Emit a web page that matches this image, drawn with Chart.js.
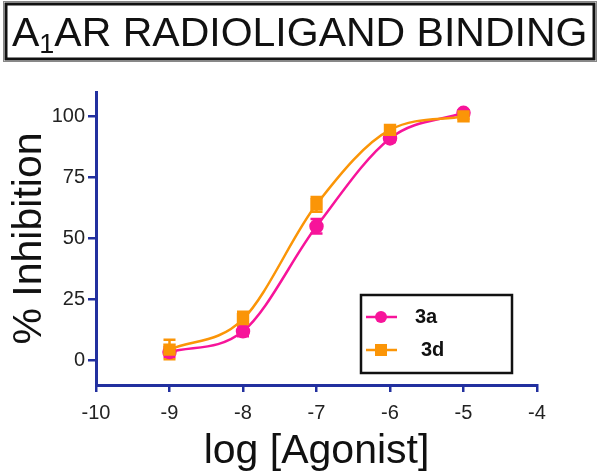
<!DOCTYPE html>
<html>
<head>
<meta charset="utf-8">
<script src="https://cdn.jsdelivr.net/npm/chart.js@4.4.1/dist/chart.umd.min.js"></script>
<style>
  html, body { margin: 0; padding: 0; background: #fff; }
  #wrap { width: 600px; height: 476px; position: relative; }
</style>
</head>
<body>
<div id="wrap"><canvas id="bindingChart" width="600" height="476"></canvas></div>
<script>
// Data
const logDoses = [-9, -8, -7, -6, -5];
const inhibition3a = [3.5, 12, 55, 91, 101.5];
const error3a = [2, 2, 3, 1.5, 1];
const inhibition3d = [4.5, 17, 64, 94.5, 100];
const error3d = [4, 3, 3, 1.5, 1];
const yTicks = [0, 25, 50, 75, 100];

const AXIS_BLUE = '#22309f';
const PINK = '#f7149a';
const ORANGE = '#fb9507';

// Title box with subscript drawn on the canvas
const titlePlugin = {
    id: 'titleBox',
    afterDraw(chart) {
        const ctx = chart.ctx;
        ctx.save();
        ctx.strokeStyle = '#111';
        ctx.lineWidth = 3;
        ctx.strokeRect(6, 4, 588, 55);
        ctx.lineWidth = 1;
        ctx.strokeStyle = '#888';
        ctx.strokeRect(3.5, 1.5, 593, 60);
        ctx.fillStyle = '#111';
        ctx.textBaseline = 'alphabetic';
        const big = '41px "Liberation Sans", Arial, sans-serif';
        const small = '27px "Liberation Sans", Arial, sans-serif';
        let x = 12;
        ctx.font = big;
        ctx.fillText('A', x, 46);
        x += ctx.measureText('A').width;
        ctx.font = small;
        ctx.fillText('1', x, 53);
        x += ctx.measureText('1').width;
        ctx.font = big;
        ctx.fillText('AR RADIOLIGAND BINDING', x, 46);
        ctx.restore();
    }
};

// Error bars from the error arrays through the chart scales
const errorBarPlugin = {
    id: 'errorBars',
    beforeDatasetsDraw(chart) {
        const ctx = chart.ctx;
        const xs = chart.scales.x, ys = chart.scales.y;
        const sets = [[inhibition3a, error3a, PINK], [inhibition3d, error3d, ORANGE]];
        ctx.save();
        ctx.lineWidth = 2.5;
        sets.forEach(([vals, errs, color]) => {
            ctx.strokeStyle = color;
            vals.forEach((v, i) => {
                const px = xs.getPixelForValue(logDoses[i]);
                const top = ys.getPixelForValue(v + errs[i]);
                const bot = ys.getPixelForValue(v - errs[i]);
                ctx.beginPath();
                ctx.moveTo(px, top); ctx.lineTo(px, bot);
                ctx.moveTo(px - 6, top); ctx.lineTo(px + 6, top);
                ctx.moveTo(px - 6, bot); ctx.lineTo(px + 6, bot);
                ctx.stroke();
            });
        });
        ctx.restore();
    }
};

// Boxed legend inside the plot
const legendPlugin = {
    id: 'boxLegend',
    afterDraw(chart) {
        const ctx = chart.ctx;
        ctx.save();
        ctx.strokeStyle = '#111';
        ctx.lineWidth = 2.5;
        ctx.strokeRect(361, 295, 151, 78);
        ctx.font = 'bold 20px "Liberation Sans", Arial, sans-serif';
        ctx.textBaseline = 'middle';
        chart.data.datasets.forEach((ds, i) => {
            const y = 317 + i * 33;
            ctx.strokeStyle = ds.borderColor;
            ctx.lineWidth = 2.5;
            ctx.beginPath();
            ctx.moveTo(366, y); ctx.lineTo(397, y);
            ctx.stroke();
            ctx.fillStyle = ds.borderColor;
            if (ds.pointStyle === 'rect') {
                ctx.fillRect(375, y - 6, 12, 12);
            } else {
                ctx.beginPath();
                ctx.arc(381, y, 6, 0, Math.PI * 2);
                ctx.fill();
            }
            ctx.fillStyle = '#111';
            ctx.fillText(ds.label, i === 0 ? 415 : 421, y);
        });
        ctx.restore();
    }
};

new Chart(document.getElementById('bindingChart'), {
    type: 'line',
    data: {
        datasets: [{
            label: '3a',
            data: logDoses.map((d, i) => ({ x: d, y: inhibition3a[i] })),
            borderColor: PINK,
            backgroundColor: PINK,
            borderWidth: 2.5,
            pointStyle: 'circle',
            pointRadius: 6,
            cubicInterpolationMode: 'monotone',
            order: 2
        }, {
            label: '3d',
            data: logDoses.map((d, i) => ({ x: d, y: inhibition3d[i] })),
            borderColor: ORANGE,
            backgroundColor: ORANGE,
            borderWidth: 2.5,
            pointStyle: 'rect',
            pointRadius: 7,
            cubicInterpolationMode: 'monotone',
            order: 1
        }]
    },
    options: {
        responsive: false,
        animation: false,
        devicePixelRatio: 1,
        layout: { padding: { top: 92, right: 63, left: 0, bottom: 0 } },
        plugins: { legend: { display: false }, tooltip: { enabled: false } },
        scales: {
            x: {
                type: 'linear',
                min: -10,
                max: -4,
                afterFit(scale) { scale.height = 91; },
                ticks: {
                    stepSize: 1,
                    color: '#222',
                    padding: 9,
                    font: { size: 20, family: '"Liberation Sans", Arial, sans-serif' }
                },
                grid: { drawOnChartArea: false, color: AXIS_BLUE, tickLength: 7, lineWidth: 2.5 },
                border: { color: AXIS_BLUE, width: 3 },
                title: {
                    display: true,
                    text: 'log [Agonist]',
                    color: '#111',
                    font: { size: 41, family: '"Liberation Sans", Arial, sans-serif', lineHeight: 1.0 }
                }
            },
            y: {
                min: -10,
                max: 110,
                afterFit(scale) { scale.width = 96; },
                afterBuildTicks(scale) { scale.ticks = yTicks.map(v => ({ value: v })); },
                ticks: {
                    color: '#222',
                    padding: 3,
                    font: { size: 20, family: '"Liberation Sans", Arial, sans-serif' }
                },
                grid: { drawOnChartArea: false, color: AXIS_BLUE, tickLength: 8, lineWidth: 2.5 },
                border: { color: AXIS_BLUE, width: 3 },
                title: {
                    display: true,
                    text: '% Inhibition',
                    color: '#111',
                    font: { size: 41, family: '"Liberation Sans", Arial, sans-serif', lineHeight: 1.25 }
                }
            }
        }
    },
    plugins: [titlePlugin, errorBarPlugin, legendPlugin]
});
</script>
</body>
</html>
